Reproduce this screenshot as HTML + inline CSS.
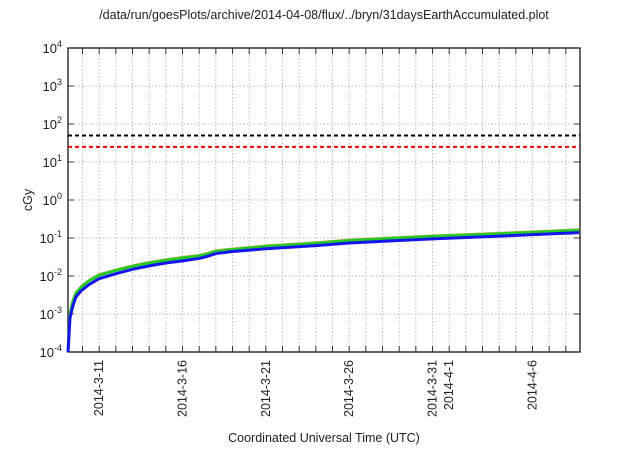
<!DOCTYPE html>
<html><head><meta charset="utf-8"><style>
body{margin:0;background:#fff}
svg text{font-family:"Liberation Sans",sans-serif;fill:#222}
</style></head><body>
<svg width="640" height="448" xmlns="http://www.w3.org/2000/svg">
<text x="324" y="19" font-size="12.5" text-anchor="middle">/data/run/goesPlots/archive/2014-04-08/flux/../bryn/31daysEarthAccumulated.plot</text>
<g id="grid"></g>
<g id="axes"></g>
<g id="series"></g>
<text x="32" y="200" font-size="12.5" text-anchor="middle" transform="rotate(-90 32 200)">cGy</text>
<text x="324" y="442" font-size="12.5" text-anchor="middle">Coordinated Universal Time (UTC)</text>
</svg>
<script>
const xTickDays=[0,5,10,15,20,21,26];
const xTickLabels=["2014-3-11","2014-3-16","2014-3-21","2014-3-26","2014-3-31","2014-4-1","2014-4-6"];
const yDecades=[-4,-3,-2,-1,0,1,2,3,4];
const thresholdValues=[50,25];
const thresholdColors=["#000","#e00"];
const seriesDays=[-1.87,-1.75,-1.6,-1.4,-1.1,-0.6,0,1,2,3,4,5,6,6.5,7,8,10,13,15,20,25,28.8];
const greenVals=[1e-4,1e-3,2e-3,3.5e-3,5e-3,7.5e-3,1.05e-2,1.4e-2,1.8e-2,2.2e-2,2.6e-2,3e-2,3.4e-2,3.8e-2,4.5e-2,5e-2,6e-2,7.3e-2,8.6e-2,1.1e-1,1.35e-1,1.6e-1];
const blueVals=[1e-4,8e-4,1.5e-3,2.8e-3,4e-3,6e-3,8.5e-3,1.15e-2,1.5e-2,1.85e-2,2.2e-2,2.5e-2,2.9e-2,3.3e-2,3.9e-2,4.4e-2,5.2e-2,6.3e-2,7.4e-2,9.5e-2,1.17e-1,1.38e-1];
const redVals=greenVals.map(v=>v*1.06);
const L=68,R=580,T=48,B=352,d0=-1.87,d1=28.85;
const xs=d=>L+(d-d0)/(d1-d0)*(R-L);
const ys=v=>B-(Math.log10(v)+4)/8*(B-T);
const NS="http://www.w3.org/2000/svg";
function mk(tag,attrs,parent){const e=document.createElementNS(NS,tag);for(const k in attrs)e.setAttribute(k,attrs[k]);parent.appendChild(e);return e;}
const grid=document.getElementById('grid'),axes=document.getElementById('axes'),ser=document.getElementById('series');
for(let d=Math.ceil(d0);d<=d1;d++){const x=xs(d);
 const g=mk('line',{x1:x,x2:x,y1:T,y2:B,stroke:'#bbb','stroke-dasharray':'1.5,2','stroke-width':1},grid);
 
 const t=mk('line',{x1:x,x2:x,y1:B,y2:B-6,stroke:'#333'},axes);
 
 const t2=mk('line',{x1:x,x2:x,y1:T,y2:T+6,stroke:'#333'},axes);
 }
yDecades.forEach(p=>{const y=ys(Math.pow(10,p));
 const g=mk('line',{x1:L,x2:R,y1:y,y2:y,stroke:'#bbb','stroke-dasharray':'1.5,2'},grid);
 
 const t=mk('line',{x1:L,x2:L+6,y1:y,y2:y,stroke:'#333'},axes);
 
 const t3=mk('line',{x1:R,x2:R-6,y1:y,y2:y,stroke:'#333'},axes);
 
 const tx=mk('text',{x:L-6,y:y+5,'font-size':13,'text-anchor':'end'},axes);
 
 tx.textContent='10';const s=mk('tspan',{dy:-6,'font-size':9},tx);s.textContent=String(p);});
xTickDays.forEach((d,i)=>{const x=xs(d)+4;
 const tx=mk('text',{x:x,y:B+8,'font-size':12.5,'text-anchor':'end',transform:`rotate(-90 ${x} ${B+8})`},axes);
 
 tx.textContent=xTickLabels[i];});
const fr=mk('rect',{x:L,y:T,width:R-L,height:B-T,fill:'none',stroke:'#333','stroke-width':1.5},axes);

thresholdValues.forEach((v,i)=>{const l=mk('line',{x1:L,x2:R,y1:ys(v),y2:ys(v),stroke:thresholdColors[i],'stroke-width':2,'stroke-dasharray':'4,3'},ser);
 });
function line(vals,color,w,name){const p=mk('polyline',{points:seriesDays.map((d,i)=>xs(d)+','+ys(vals[i])).join(' '),fill:'none',stroke:color,'stroke-width':w},ser);
 }
line(redVals,'#e8a070',2,'series-red');
line(greenVals,'#22cc22',3,'series-green');
line(blueVals,'#1515ee',3,'series-blue');
</script>
</body></html>
